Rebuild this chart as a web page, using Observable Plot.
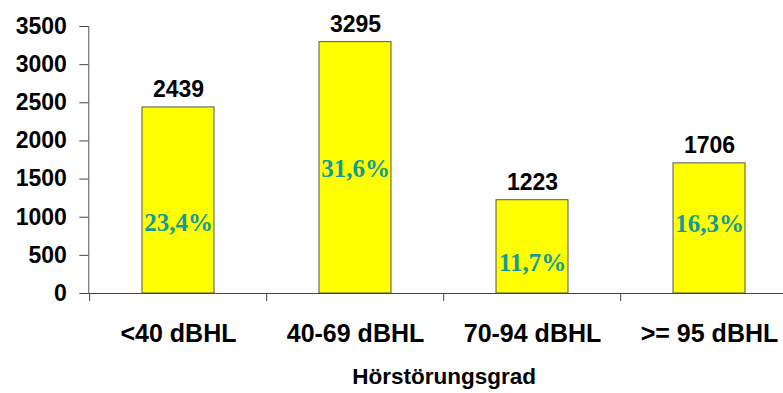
<!DOCTYPE html>
<html>
<head>
<meta charset="utf-8">
<script src="https://cdn.jsdelivr.net/npm/d3@7"></script>
<script src="https://cdn.jsdelivr.net/npm/@observablehq/plot@0.6"></script>
<style>
  html, body { margin: 0; padding: 0; background: #fff; }
  svg { display: block; }
</style>
</head>
<body>
<div id="chart"></div>
<script>
// Patients per degree of hearing loss
const grades = ["<40 dBHL", "40-69 dBHL", "70-94 dBHL", ">= 95 dBHL"];
const counts = [2439, 3295, 1223, 1706];
const shares = ["23,4%", "31,6%", "11,7%", "16,3%"];
// height (in patients) at which each share label sits inside its bar
const shareLabelAt = [924, 1638, 400, 917];
const yTicks = [0, 500, 1000, 1500, 2000, 2500, 3000, 3500];
const axisTitle = "Hörstörungsgrad";

const rows = grades.map((g, i) => ({grade: g, count: counts[i], share: shares[i], at: shareLabelAt[i]}));

const W = 783, H = 393;
const left = 88.3, right = 799;
const pad = 0.595;
const step = (right - left) / grades.length;
const sans = "'Liberation Sans', Arial, sans-serif";
const serif = "'Liberation Serif', 'Times New Roman', serif";

const chart = Plot.plot({
  width: W,
  height: H,
  marginTop: 26,
  marginBottom: 100,
  marginLeft: left,
  marginRight: W - right,
  style: {fontFamily: sans, background: "#fff", overflow: "visible"},
  x: {domain: grades, padding: pad, paddingOuter: pad / 2, align: 0.5, label: null},
  y: {domain: [0, 3500], label: null},
  marks: [
    Plot.barY(rows, {x: "grade", y: "count", fill: "#ffff00", stroke: "#555", strokeWidth: 1}),
    Plot.ruleY([0], {stroke: "#444", strokeWidth: 1}),
    // vertical value axis line
    Plot.frame({anchor: "left", stroke: "#555", strokeWidth: 1}),
    Plot.axisY({ticks: yTicks, tickFormat: d => String(d), tickSize: 9, tickPadding: 13,
      fontSize: 23, fontWeight: "bold", stroke: "#444", fill: "#000", label: null}),
    // tick marks between categories
    Plot.axisX({tickSize: 8, tickFormat: () => "", dx: -step / 2, stroke: "#444", label: null}),
    // category names
    Plot.axisX({tickSize: 0, tickPadding: 31, fontSize: 25, fontWeight: "bold", fill: "#000", label: null}),
    Plot.text(rows, {x: "grade", y: "count", text: d => String(d.count), lineAnchor: "bottom", dy: -10,
      fontSize: 23, fontWeight: "bold", fill: "#000"}),
    Plot.text(rows, {x: "grade", y: "at", text: "share", lineAnchor: "middle",
      fontSize: 25, fontWeight: "bold", fontFamily: serif, fill: "#139a9a"}),
    Plot.text([axisTitle], {frameAnchor: "bottom", dy: 83, lineAnchor: "middle", fontSize: 22.5, fontWeight: "bold", fill: "#000"})
  ]
});

document.getElementById("chart").append(chart);
</script>
</body>
</html>
